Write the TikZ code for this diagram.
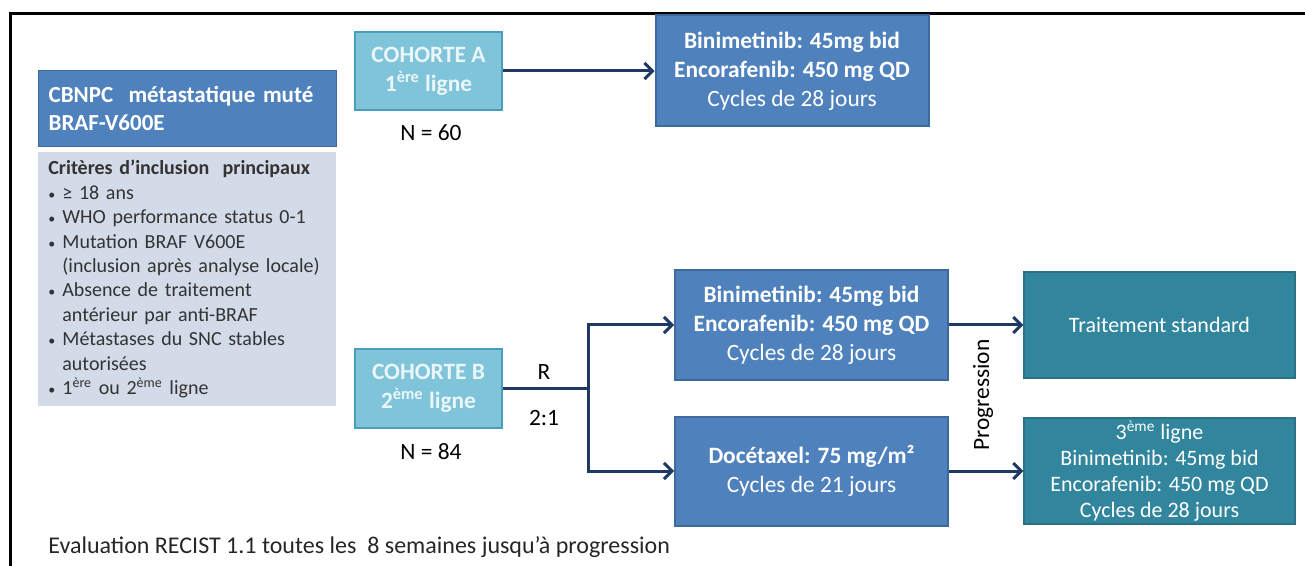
\documentclass[tikz,border=0pt]{standalone}
\usepackage{fontspec}
\setmainfont{Carlito}
\usetikzlibrary{arrows.meta}
\definecolor{armblue}{HTML}{4F81BD}
\definecolor{armline}{HTML}{3C6A9E}
\definecolor{cohfill}{HTML}{7FC4D9}
\definecolor{cohline}{HTML}{4A9EBD}
\definecolor{cohtext}{HTML}{EAF6FA}
\definecolor{trtteal}{HTML}{31859C}
\definecolor{critgray}{HTML}{D3DAE8}
\definecolor{arrowblue}{HTML}{1F3864}
\newcommand{\critpt}[1]{\makebox[7pt][l]{\scriptsize\textbullet}#1}
\newcommand{\critnext}[1]{\hspace*{7pt}#1}
\begin{document}
\begin{tikzpicture}[x=0.5pt,y=-0.5pt,
    arm/.style={draw=armline,line width=1pt,fill=armblue,text=white,align=center,
      minimum width=136.5pt,minimum height=54.5pt,inner sep=0pt,
      font=\fontsize{11.7}{14.5}\selectfont},
    trt/.style={draw=trtteal!85!black,line width=0.6pt,fill=trtteal,text=white,align=center,
      minimum width=135.5pt,minimum height=53pt,inner sep=0pt,
      font=\fontsize{11}{13}\selectfont},
    cohort/.style={draw=cohline,line width=1pt,fill=cohfill,text=cohtext,align=center,
      minimum width=73.5pt,minimum height=39pt,inner sep=0pt,
      font=\bfseries\fontsize{11.7}{14.5}\selectfont},
    lbl/.style={inner sep=0pt,font=\fontsize{11.7}{13}\selectfont},
    arr/.style={draw=arrowblue,line width=1.5pt,-{Straight Barb[length=4pt,width=8pt]}},
    link/.style={draw=arrowblue,line width=1.5pt}]
  \useasboundingbox (0,0) rectangle (1305,566);
  \draw[line width=1.5pt] (10,566) -- (10,14) -- (1305,14);

  \node[anchor=north west,fill=armblue,draw=armline,line width=0.6pt,text=white,
    minimum width=149pt,minimum height=38pt,text width=139pt,inner xsep=5pt,align=left,
    font=\bfseries\fontsize{11.5}{14}\selectfont] (cbnpc) at (38,70)
    {CBNPC \ métastatique muté\\BRAF-V600E};
  \node[anchor=north west,fill=critgray,text=black!80,
    text width=139pt,inner xsep=5pt,inner ysep=4pt,align=left,
    font=\fontsize{10}{12.2}\selectfont] (crit) at (38,152)
    {\textbf{Critères d’inclusion \ principaux}\\
     \critpt{≥ 18 ans}\\
     \critpt{WHO performance status 0-1}\\
     \critpt{Mutation BRAF V600E}\\
     \critnext{(inclusion après analyse locale)}\\
     \critpt{Absence de traitement}\\
     \critnext{antérieur par anti-BRAF}\\
     \critpt{Métastases du SNC stables}\\
     \critnext{autorisées}\\
     \critpt{1\textsuperscript{ère} ou 2\textsuperscript{ème} ligne}};

  \node[cohort] (cohA) at (428.5,71) {COHORTE A\\1\textsuperscript{ère} ligne};
  \node[lbl] (nA) at (431,133) {N = 60};
  \node[cohort] (cohB) at (428.5,388.5) {COHORTE B\\2\textsuperscript{ème} ligne};
  \node[lbl] (nB) at (431,452) {N = 84};

  \node[arm,minimum height=55.5pt] (armA) at (792,71)
    {\textbf{Binimetinib: 45mg bid}\\\textbf{Encorafenib: 450 mg QD}\\Cycles de 28 jours};
  \node[arm] (armB) at (811.5,325)
    {\textbf{Binimetinib: 45mg bid}\\\textbf{Encorafenib: 450 mg QD}\\Cycles de 28 jours};
  \node[arm] (armC) at (811.5,471)
    {\textbf{Docétaxel: 75 mg/m²}\\Cycles de 21 jours};
  \node[trt] (std) at (1159.5,325) {Traitement standard};
  \node[trt] (third) at (1159.5,471)
    {3\textsuperscript{ème} ligne\\Binimetinib: 45mg bid\\Encorafenib: 450 mg QD\\Cycles de 28 jours};

  \coordinate (split) at (588,388.5);
  \node[lbl] (rand) at (544,372) {R};
  \node[lbl] (ratio) at (544,418) {2:1};
  \node[lbl,rotate=90] (prog) at (983,395) {Progression};
  \node[lbl,anchor=west,font=\fontsize{12}{13}\selectfont,text=black!85] (recist) at (48,547)
    {Evaluation RECIST 1.1 toutes les \ 8 semaines jusqu’à progression};

  \draw[arr] (cohA) -- (armA);
  \draw[link] (cohB) -- (split);
  \draw[arr] (split) |- (armB);
  \draw[arr] (split) |- (armC);
  \draw[arr] (armB) -- (std);
  \draw[arr] (armC) -- (third);
\end{tikzpicture}
\end{document}
